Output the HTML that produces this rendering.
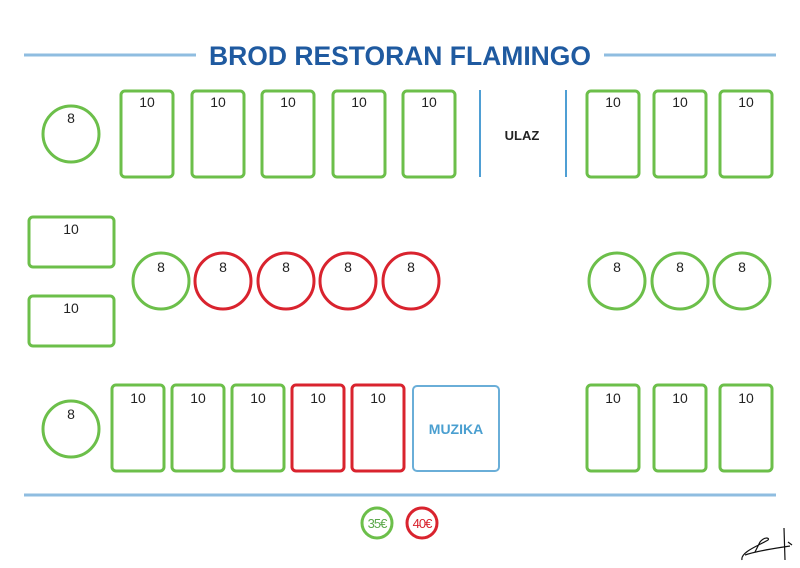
<!DOCTYPE html>
<html><head><meta charset="utf-8"><style>
html,body{margin:0;padding:0;background:#fff;}
svg{display:block;}
text{font-family:"Liberation Sans",sans-serif;}
</style></head><body>
<svg width="800" height="568" viewBox="0 0 800 568" xmlns="http://www.w3.org/2000/svg">
<g stroke="#8fbde0" stroke-width="3">
<line x1="24" y1="55" x2="196" y2="55"/>
<line x1="604" y1="55" x2="776" y2="55"/>
<line x1="24" y1="495" x2="776" y2="495"/>
</g>
<text x="400" y="65" text-anchor="middle" font-size="27" font-weight="bold" fill="#1f5aa0" textLength="382" lengthAdjust="spacingAndGlyphs">BROD RESTORAN FLAMINGO</text>
<g stroke="#4f9fd4" stroke-width="2">
<line x1="480" y1="90" x2="480" y2="177"/>
<line x1="566" y1="90" x2="566" y2="177"/>
</g>
<text x="522" y="140" text-anchor="middle" font-size="13" font-weight="bold" fill="#222">ULAZ</text>
<g fill="none" stroke-width="3">
<!-- row1 -->
<g stroke="#6cbf4a">
<circle cx="71" cy="134" r="28"/>
<rect x="121" y="91" width="52" height="86" rx="4"/>
<rect x="192" y="91" width="52" height="86" rx="4"/>
<rect x="262" y="91" width="52" height="86" rx="4"/>
<rect x="333" y="91" width="52" height="86" rx="4"/>
<rect x="403" y="91" width="52" height="86" rx="4"/>
<rect x="587" y="91" width="52" height="86" rx="4"/>
<rect x="654" y="91" width="52" height="86" rx="4"/>
<rect x="720" y="91" width="52" height="86" rx="4"/>
<!-- row2 -->
<rect x="29" y="217" width="85" height="50" rx="4"/>
<rect x="29" y="296" width="85" height="50" rx="4"/>
<circle cx="161" cy="281" r="28"/>
<circle cx="617" cy="281" r="28"/>
<circle cx="680" cy="281" r="28"/>
<circle cx="742" cy="281" r="28"/>
<!-- row3 -->
<circle cx="71" cy="429" r="28"/>
<rect x="112" y="385" width="52" height="86" rx="4"/>
<rect x="172" y="385" width="52" height="86" rx="4"/>
<rect x="232" y="385" width="52" height="86" rx="4"/>
<rect x="587" y="385" width="52" height="86" rx="4"/>
<rect x="654" y="385" width="52" height="86" rx="4"/>
<rect x="720" y="385" width="52" height="86" rx="4"/>
<circle cx="377" cy="523" r="15"/>
</g>
<g stroke="#d9232e">
<circle cx="223" cy="281" r="28"/>
<circle cx="286" cy="281" r="28"/>
<circle cx="348" cy="281" r="28"/>
<circle cx="411" cy="281" r="28"/>
<rect x="292" y="385" width="52" height="86" rx="4"/>
<rect x="352" y="385" width="52" height="86" rx="4"/>
<circle cx="422" cy="523" r="15"/>
</g>
<rect x="413" y="386" width="86" height="85" rx="4" stroke="#6aaed8" stroke-width="2"/>
</g>
<text x="456" y="434" text-anchor="middle" font-size="14" font-weight="bold" fill="#4a9fd0">MUZIKA</text>
<g font-size="14" fill="#222" text-anchor="middle">
<text x="71" y="123">8</text>
<text x="147" y="107">10</text><text x="218" y="107">10</text><text x="288" y="107">10</text><text x="359" y="107">10</text><text x="429" y="107">10</text>
<text x="613" y="107">10</text><text x="680" y="107">10</text><text x="746" y="107">10</text>
<text x="71" y="234">10</text><text x="71" y="313">10</text>
<text x="161" y="272">8</text><text x="223" y="272">8</text><text x="286" y="272">8</text><text x="348" y="272">8</text><text x="411" y="272">8</text>
<text x="617" y="272">8</text><text x="680" y="272">8</text><text x="742" y="272">8</text>
<text x="71" y="419">8</text>
<text x="138" y="403">10</text><text x="198" y="403">10</text><text x="258" y="403">10</text><text x="318" y="403">10</text><text x="378" y="403">10</text>
<text x="613" y="403">10</text><text x="680" y="403">10</text><text x="746" y="403">10</text>
</g>
<text x="377" y="528" text-anchor="middle" font-size="13" fill="#5aa84a" letter-spacing="-1">35€</text>
<text x="422" y="528" text-anchor="middle" font-size="13" fill="#d9232e" letter-spacing="-1">40€</text>
<g stroke="#111" stroke-width="1.2" fill="none">
<path d="M742 560 C740 552 760 545 768 540 C770 538 765 536 760 542 L755 552"/>
<path d="M745 555 C760 550 778 548 790 546"/>
<path d="M784 528 L785 560 M788 542 L792 545"/>
</g>
</svg>
</body></html>
